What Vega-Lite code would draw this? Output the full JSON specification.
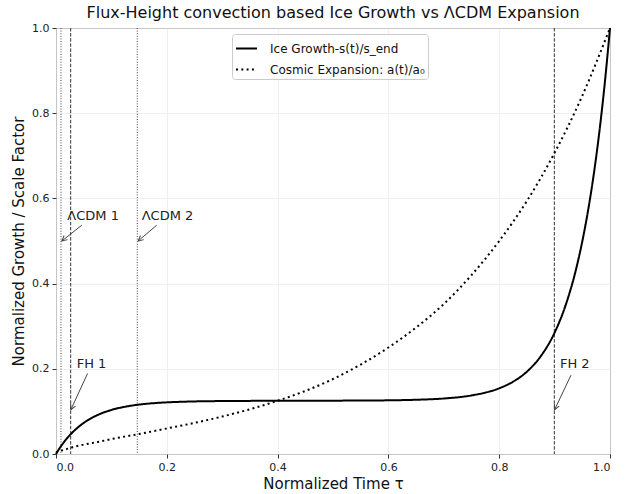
{
  "$schema": "https://vega.github.io/schema/vega-lite/v6.json",
  "width": 554,
  "height": 426,
  "autosize": {"type": "none"},
  "padding": {"left": 56, "top": 28, "right": 21, "bottom": 40},
  "background": "white",
  "title": {"text": "Flux-Height convection based Ice Growth vs ΛCDM Expansion", "fontSize": 16, "font": "DejaVu Sans", "fontWeight": "normal", "color": "#111", "offset": 1, "anchor": "middle", "frame": "group"},
  "config": {
    "font": "DejaVu Sans",
    "view": {"stroke": "#333", "strokeWidth": 1},
    "axis": {"grid": true, "gridColor": "#ebebeb", "gridWidth": 0.8, "domain": false, "tickColor": "#333", "tickSize": 4, "labelFontSize": 11, "labelColor": "#222", "titleFontSize": 15, "titleFontWeight": "normal", "titleColor": "#111", "labelPadding": 3},
    "legend": {"orient": "none", "legendX": 176, "legendY": 6, "fillColor": "rgba(255,255,255,0.85)", "strokeColor": "#cccccc", "cornerRadius": 3, "padding": 3, "labelFontSize": 12, "labelColor": "#111", "symbolType": "stroke", "symbolSize": 441, "symbolStrokeWidth": 2, "symbolStrokeColor": "black", "labelOffset": 12, "rowPadding": 3, "title": null}
  },
  "datasets": {
    "curves": [
      {"tau": 0, "value": 0, "series": "Ice Growth-s(t)/s_end"},
      {"tau": 0.005, "value": 0.0105, "series": "Ice Growth-s(t)/s_end"},
      {"tau": 0.01, "value": 0.0201, "series": "Ice Growth-s(t)/s_end"},
      {"tau": 0.02, "value": 0.037, "series": "Ice Growth-s(t)/s_end"},
      {"tau": 0.03, "value": 0.0511, "series": "Ice Growth-s(t)/s_end"},
      {"tau": 0.04, "value": 0.063, "series": "Ice Growth-s(t)/s_end"},
      {"tau": 0.05, "value": 0.073, "series": "Ice Growth-s(t)/s_end"},
      {"tau": 0.06, "value": 0.0814, "series": "Ice Growth-s(t)/s_end"},
      {"tau": 0.075, "value": 0.0915, "series": "Ice Growth-s(t)/s_end"},
      {"tau": 0.1, "value": 0.1034, "series": "Ice Growth-s(t)/s_end"},
      {"tau": 0.125, "value": 0.111, "series": "Ice Growth-s(t)/s_end"},
      {"tau": 0.15, "value": 0.116, "series": "Ice Growth-s(t)/s_end"},
      {"tau": 0.175, "value": 0.1192, "series": "Ice Growth-s(t)/s_end"},
      {"tau": 0.2, "value": 0.1212, "series": "Ice Growth-s(t)/s_end"},
      {"tau": 0.25, "value": 0.1234, "series": "Ice Growth-s(t)/s_end"},
      {"tau": 0.3, "value": 0.1243, "series": "Ice Growth-s(t)/s_end"},
      {"tau": 0.35, "value": 0.1247, "series": "Ice Growth-s(t)/s_end"},
      {"tau": 0.4, "value": 0.1249, "series": "Ice Growth-s(t)/s_end"},
      {"tau": 0.45, "value": 0.125, "series": "Ice Growth-s(t)/s_end"},
      {"tau": 0.5, "value": 0.1252, "series": "Ice Growth-s(t)/s_end"},
      {"tau": 0.55, "value": 0.1255, "series": "Ice Growth-s(t)/s_end"},
      {"tau": 0.6, "value": 0.126, "series": "Ice Growth-s(t)/s_end"},
      {"tau": 0.65, "value": 0.1273, "series": "Ice Growth-s(t)/s_end"},
      {"tau": 0.7, "value": 0.1303, "series": "Ice Growth-s(t)/s_end"},
      {"tau": 0.75, "value": 0.1375, "series": "Ice Growth-s(t)/s_end"},
      {"tau": 0.8, "value": 0.1542, "series": "Ice Growth-s(t)/s_end"},
      {"tau": 0.825, "value": 0.1697, "series": "Ice Growth-s(t)/s_end"},
      {"tau": 0.85, "value": 0.1933, "series": "Ice Growth-s(t)/s_end"},
      {"tau": 0.875, "value": 0.2295, "series": "Ice Growth-s(t)/s_end"},
      {"tau": 0.9, "value": 0.2848, "series": "Ice Growth-s(t)/s_end"},
      {"tau": 0.92, "value": 0.3496, "series": "Ice Growth-s(t)/s_end"},
      {"tau": 0.94, "value": 0.4405, "series": "Ice Growth-s(t)/s_end"},
      {"tau": 0.95, "value": 0.499, "series": "Ice Growth-s(t)/s_end"},
      {"tau": 0.96, "value": 0.5683, "series": "Ice Growth-s(t)/s_end"},
      {"tau": 0.97, "value": 0.6504, "series": "Ice Growth-s(t)/s_end"},
      {"tau": 0.98, "value": 0.7478, "series": "Ice Growth-s(t)/s_end"},
      {"tau": 0.99, "value": 0.8632, "series": "Ice Growth-s(t)/s_end"},
      {"tau": 1.0, "value": 1.0, "series": "Ice Growth-s(t)/s_end"},
      {"tau": 0, "value": 0.004, "series": "Cosmic Expansion: a(t)/a₀"},
      {"tau": 0.01, "value": 0.008, "series": "Cosmic Expansion: a(t)/a₀"},
      {"tau": 0.02, "value": 0.012, "series": "Cosmic Expansion: a(t)/a₀"},
      {"tau": 0.03, "value": 0.016, "series": "Cosmic Expansion: a(t)/a₀"},
      {"tau": 0.05, "value": 0.022, "series": "Cosmic Expansion: a(t)/a₀"},
      {"tau": 0.075, "value": 0.028, "series": "Cosmic Expansion: a(t)/a₀"},
      {"tau": 0.1, "value": 0.035, "series": "Cosmic Expansion: a(t)/a₀"},
      {"tau": 0.15, "value": 0.047, "series": "Cosmic Expansion: a(t)/a₀"},
      {"tau": 0.2, "value": 0.06, "series": "Cosmic Expansion: a(t)/a₀"},
      {"tau": 0.25, "value": 0.073, "series": "Cosmic Expansion: a(t)/a₀"},
      {"tau": 0.3, "value": 0.088, "series": "Cosmic Expansion: a(t)/a₀"},
      {"tau": 0.35, "value": 0.105, "series": "Cosmic Expansion: a(t)/a₀"},
      {"tau": 0.4, "value": 0.125, "series": "Cosmic Expansion: a(t)/a₀"},
      {"tau": 0.45, "value": 0.148, "series": "Cosmic Expansion: a(t)/a₀"},
      {"tau": 0.5, "value": 0.176, "series": "Cosmic Expansion: a(t)/a₀"},
      {"tau": 0.55, "value": 0.21, "series": "Cosmic Expansion: a(t)/a₀"},
      {"tau": 0.6, "value": 0.25, "series": "Cosmic Expansion: a(t)/a₀"},
      {"tau": 0.65, "value": 0.297, "series": "Cosmic Expansion: a(t)/a₀"},
      {"tau": 0.7, "value": 0.352, "series": "Cosmic Expansion: a(t)/a₀"},
      {"tau": 0.75, "value": 0.42, "series": "Cosmic Expansion: a(t)/a₀"},
      {"tau": 0.8, "value": 0.5, "series": "Cosmic Expansion: a(t)/a₀"},
      {"tau": 0.85, "value": 0.594, "series": "Cosmic Expansion: a(t)/a₀"},
      {"tau": 0.9, "value": 0.707, "series": "Cosmic Expansion: a(t)/a₀"},
      {"tau": 0.95, "value": 0.841, "series": "Cosmic Expansion: a(t)/a₀"},
      {"tau": 1.0, "value": 1.0, "series": "Cosmic Expansion: a(t)/a₀"}
    ],
    "vlines": [
      {"tau": 0.009, "kind": "LCDM"},
      {"tau": 0.1467, "kind": "LCDM"},
      {"tau": 0.0265, "kind": "FH"},
      {"tau": 0.8995, "kind": "FH"}
    ],
    "notes": [
      {"label": "ΛCDM 1", "kind": "LCDM", "tx": 0.0204, "ty": 0.558, "sx": 0.0464, "sy": 0.537, "ex": 0.0105, "ey": 0.5},
      {"label": "ΛCDM 2", "kind": "LCDM", "tx": 0.1547, "ty": 0.558, "sx": 0.1817, "sy": 0.537, "ex": 0.1482, "ey": 0.5},
      {"label": "FH 1", "kind": "FH", "tx": 0.0373, "ty": 0.211, "sx": 0.057, "sy": 0.189, "ex": 0.0268, "ey": 0.104},
      {"label": "FH 2", "kind": "FH", "tx": 0.9097, "ty": 0.211, "sx": 0.9296, "sy": 0.185, "ex": 0.9, "ey": 0.104}
    ]
  },
  "layer": [
    {
      "data": {"name": "vlines"},
      "transform": [{"filter": "datum.kind === 'LCDM'"}],
      "mark": {"type": "rule", "color": "#444", "strokeWidth": 1, "strokeDash": [1, 1.6]},
      "encoding": {
        "x": {"field": "tau", "type": "quantitative", "scale": {"domain": [0, 1], "nice": false, "zero": false},
          "axis": {"title": "Normalized Time τ", "values": [0, 0.2, 0.4, 0.6, 0.8, 1.0], "format": ".1f", "titlePadding": 4}}
      }
    },
    {
      "data": {"name": "vlines"},
      "transform": [{"filter": "datum.kind === 'FH'"}],
      "mark": {"type": "rule", "color": "#333", "strokeWidth": 1, "strokeDash": [3.5, 1.6]},
      "encoding": {
        "x": {"field": "tau", "type": "quantitative"}
      }
    },
    {
      "data": {"name": "curves"},
      "mark": {"type": "line", "color": "black", "strokeWidth": 2, "interpolate": "monotone"},
      "encoding": {
        "x": {"field": "tau", "type": "quantitative"},
        "y": {"field": "value", "type": "quantitative", "scale": {"domain": [0, 1], "nice": false},
          "axis": {"title": "Normalized Growth / Scale Factor", "values": [0, 0.2, 0.4, 0.6, 0.8, 1.0], "format": ".1f", "titlePadding": 5}},
        "strokeDash": {"field": "series", "type": "nominal",
          "scale": {"domain": ["Ice Growth-s(t)/s_end", "Cosmic Expansion: a(t)/a₀"], "range": [[1, 0], [2, 3.3]]}},
        "detail": {"field": "series"}
      }
    },
    {
      "data": {"name": "notes"},
      "mark": {"type": "rule", "color": "#444", "strokeWidth": 1},
      "encoding": {
        "x": {"field": "sx", "type": "quantitative"},
        "y": {"field": "sy", "type": "quantitative"},
        "x2": {"field": "ex"},
        "y2": {"field": "ey"}
      }
    },
    {
      "data": {"name": "notes"},
      "transform": [{"filter": "datum.kind === 'LCDM'"}],
      "mark": {"type": "point", "shape": "M-2,-1L0,0L-2,1", "size": 28, "filled": false, "stroke": "#444", "strokeWidth": 1, "angle": 140, "opacity": 1},
      "encoding": {
        "x": {"field": "ex", "type": "quantitative"},
        "y": {"field": "ey", "type": "quantitative"}
      }
    },
    {
      "data": {"name": "notes"},
      "transform": [{"filter": "datum.kind === 'FH'"}],
      "mark": {"type": "point", "shape": "M-2,-1L0,0L-2,1", "size": 28, "filled": false, "stroke": "#444", "strokeWidth": 1, "angle": 115, "opacity": 1},
      "encoding": {
        "x": {"field": "ex", "type": "quantitative"},
        "y": {"field": "ey", "type": "quantitative"}
      }
    },
    {
      "data": {"name": "notes"},
      "mark": {"type": "text", "align": "left", "baseline": "middle", "fontSize": 13, "color": "#222"},
      "encoding": {
        "x": {"field": "tx", "type": "quantitative"},
        "y": {"field": "ty", "type": "quantitative"},
        "text": {"field": "label"}
      }
    }
  ]
}
